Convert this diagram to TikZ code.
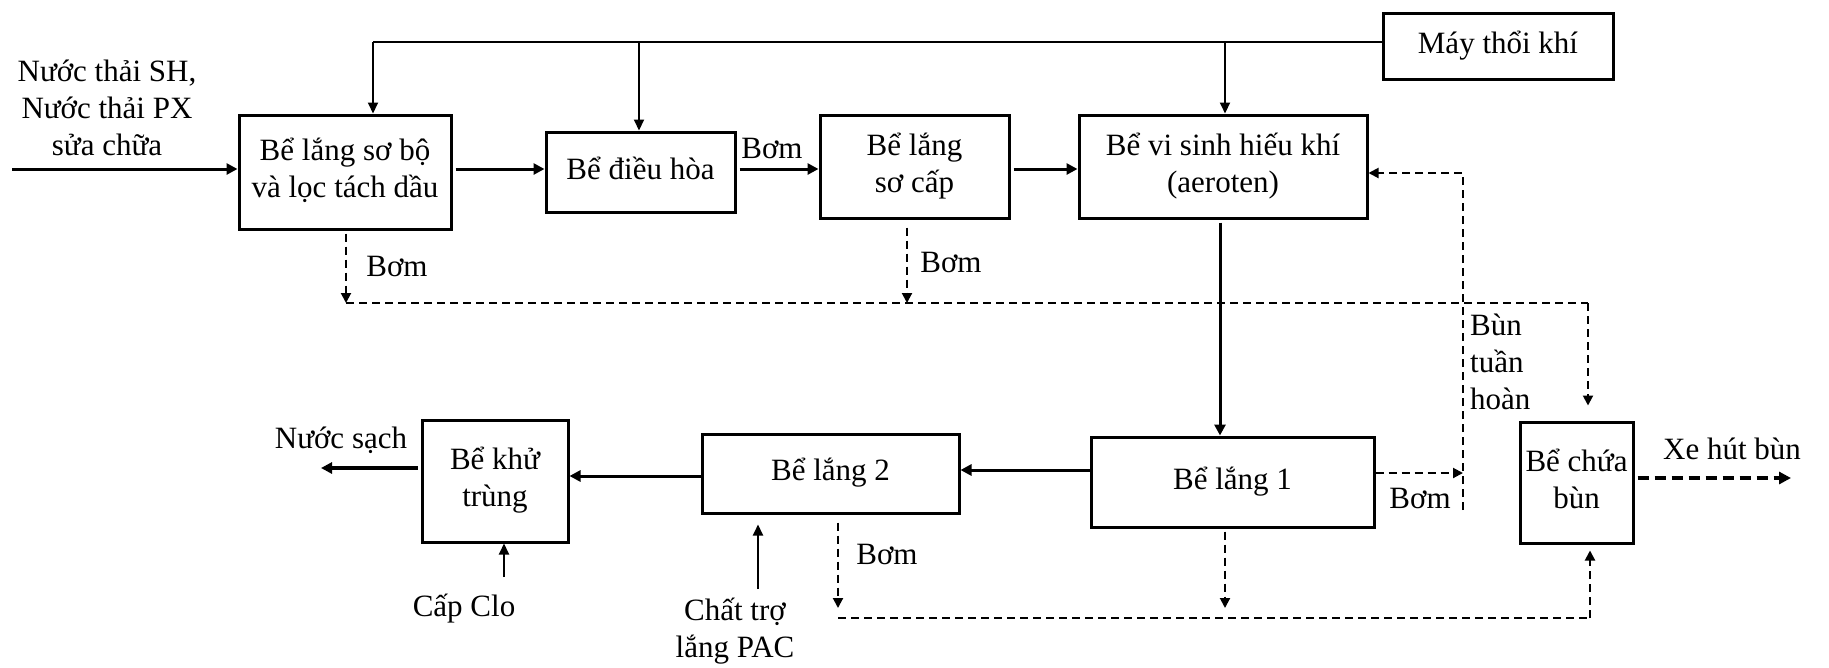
\documentclass[tikz,border=0pt]{standalone}
\usepackage{fontspec}
\setmainfont{Liberation Serif}
\usetikzlibrary{arrows.meta,calc}
\newcommand\myfs{\fontsize{31}{37}\selectfont}
\newcommand\bt[2]{\raisebox{#1}{\begin{tabular}{@{}c@{}}#2\end{tabular}}}
\begin{document}
\begin{tikzpicture}[x=1pt,y=-1pt,
  box/.style={draw,line width=3pt,inner sep=0pt,align=center,font=\myfs},
  lbl/.style={inner sep=0pt,align=center,font=\myfs},
  tip/.style={-{Triangle[length=11pt,width=11pt]}},
  flow/.style={line width=3pt,tip},
  air/.style={line width=2pt},
  airarr/.style={line width=2pt,-{Triangle[length=11pt,width=10pt]}},
  dsh/.style={line width=2pt,dash pattern=on 8pt off 5pt},
  dsharr/.style={dsh,-{Triangle[length=10pt,width=10pt]}}]
\useasboundingbox (0,0) rectangle (1829,667);

% boxes
\node[box,minimum width=212pt,minimum height=114pt] (b1) at (345,172) {\bt{10pt}{Bể lắng sơ bộ\\và lọc tách dầu}};
\node[box,minimum width=189pt,minimum height=80pt] (b2) at (640.5,172) {\bt{11pt}{Bể điều hòa}};
\node[box,minimum width=189pt,minimum height=103pt] (b3) at (914.5,166.5) {\bt{5pt}{Bể lắng\\sơ cấp}};
\node[box,minimum width=288pt,minimum height=103pt] (b4) at (1223,166.5) {\bt{5pt}{Bể vi sinh hiếu khí\\(aeroten)}};
\node[box,minimum width=230pt,minimum height=66pt] (mt) at (1498,46) {\bt{6pt}{Máy thổi khí}};
\node[box,minimum width=283pt,minimum height=90pt] (l1) at (1232.5,482) {\bt{10pt}{Bể lắng 1}};
\node[box,minimum width=257pt,minimum height=79pt] (l2) at (830.5,473.5) {\bt{10pt}{Bể lắng 2}};
\node[box,minimum width=146pt,minimum height=122pt] (kt) at (495,481) {\bt{12.5pt}{Bể khử\\trùng}};
\node[box,minimum width=113pt,minimum height=121pt] (cb) at (1576.5,482.5) {\bt{14pt}{Bể chứa\\bùn}};

% labels
\node[lbl] (tin) at (107,108) {Nước thải SH,\\Nước thải PX\\sửa chữa};
\node[lbl] (bom1) at (772,148) {Bơm};
\node[lbl] (bom2) at (397,266) {Bơm};
\node[lbl] (bom3) at (951,262) {Bơm};
\node[lbl] (bom4) at (1420,498) {Bơm};
\node[lbl] (bom5) at (887,554) {Bơm};
\node[lbl,anchor=west,align=left] (btn) at (1470,362) {Bùn\\tuần\\hoàn};
\node[lbl] (ns) at (341,440) {Nước sạch};
\node[lbl] (clo) at (464,609) {Cấp Clo};
\node[lbl] (pac) at (735,631) {Chất trợ\\lắng PAC};
\node[lbl] (xe) at (1732,449) {Xe hút bùn};

% coordinates
\coordinate (in) at (12,169);
\coordinate (fy) at (0,169);
\coordinate (a1) at (373,42);
\coordinate (a2) at (639,42);
\coordinate (a3) at (1225,42);
\coordinate (p1) at (346,303);
\coordinate (p2) at (907,303);
\coordinate (p3) at (1588,303);
\coordinate (r0) at (1463,510);
\coordinate (r1) at (1463,473);
\coordinate (r2) at (1463,173);
\coordinate (v1) at (1220,300);
\coordinate (h1) at (0,470);
\coordinate (h2) at (0,476);
\coordinate (h3) at (321,468);
\coordinate (c1) at (504,577);
\coordinate (c2) at (758,589);
\coordinate (q1) at (838,618);
\coordinate (q2) at (1590,618);
\coordinate (q3) at (1225,618);
\coordinate (x1) at (1791,478);

% main flow
\draw[flow] (in) -- (in -| b1.west);
\draw[flow,shorten <=3pt] (b1.east |- fy) -- (b2.west |- fy);
\draw[flow,shorten <=3pt] (b2.east |- fy) -- (b3.west |- fy);
\draw[flow,shorten <=3pt] (b3.east |- fy) -- (b4.west |- fy);
\draw[flow,shorten <=3pt] (b4.south -| v1) -- (l1.north -| v1);
\draw[flow] (l1.west |- h1) -- (l2.east |- h1);
\draw[flow] (l2.west |- h2) -- (kt.east |- h2);
\draw[flow,line width=3.5pt,shorten <=3pt] (kt.west |- h3) -- (h3);

% air
\draw[air] (mt.west |- a1) -- (a1);
\draw[airarr] (a1) -- (a1 |- b1.north);
\draw[airarr] (a2) -- (a2 |- b2.north);
\draw[airarr] (a3) -- (a3 |- b4.north);

% chemicals
\draw[airarr] (c1) -- (c1 |- kt.south);
\draw[airarr,shorten >=10pt] (c2) -- (c2 |- l2.south);

% sludge lines
\draw[dsharr,shorten <=3pt] (b1.south -| p1) -- (p1);
\draw[dsharr,shorten <=8pt] (b3.south -| p2) -- (p2);
\draw[dsh] (p1) -- (p3);
\draw[dsharr,shorten >=15pt] (p3) -- (p3 |- cb.north);
\draw[dsharr] (l1.east |- r1) -- (r1);
\draw[dsharr] (r0) -- (r2) -- (r2 -| b4.east);
\draw[dsharr,shorten <=8pt,shorten >=10pt] (l2.south -| q1) -- (q1);
\draw[dsharr,shorten <=3pt,shorten >=10pt] (l1.south -| q3) -- (q3);
\draw[dsh] (q1) -- (q2);
\draw[dsharr,shorten >=6pt] (q2) -- (q2 |- cb.south);
\draw[line width=4pt,dash pattern=on 11pt off 6pt,-{Triangle[length=12pt,width=12pt]},shorten <=3pt] (cb.east |- x1) -- (x1);
\end{tikzpicture}
\end{document}
